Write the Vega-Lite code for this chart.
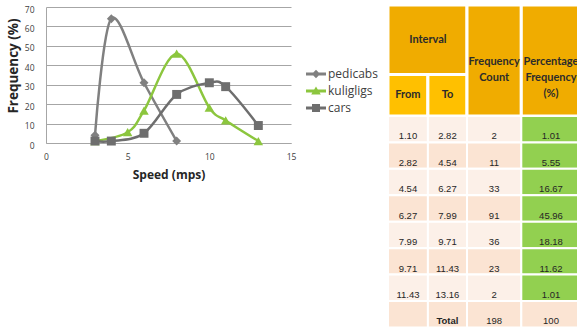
{
  "$schema": "https://vega.github.io/schema/vega-lite/v6.json",
  "background": "white",
  "padding": {"left": 5, "top": 3, "right": 0, "bottom": 0},
  "bounds": "flush",
  "spacing": 97,
  "datasets": {
    "speeds": [
      {"mode": "pedicabs", "speed": 3, "freq": 4},
      {"mode": "pedicabs", "speed": 4, "freq": 64},
      {"mode": "pedicabs", "speed": 6, "freq": 31},
      {"mode": "pedicabs", "speed": 8, "freq": 1},
      {"mode": "kuligligs", "speed": 3, "freq": 1.01},
      {"mode": "kuligligs", "speed": 5, "freq": 5.55},
      {"mode": "kuligligs", "speed": 6, "freq": 16.67},
      {"mode": "kuligligs", "speed": 8, "freq": 45.96},
      {"mode": "kuligligs", "speed": 10, "freq": 18.18},
      {"mode": "kuligligs", "speed": 11, "freq": 11.62},
      {"mode": "kuligligs", "speed": 13, "freq": 1.01},
      {"mode": "cars", "speed": 3, "freq": 1},
      {"mode": "cars", "speed": 4, "freq": 1},
      {"mode": "cars", "speed": 6, "freq": 5},
      {"mode": "cars", "speed": 8, "freq": 25},
      {"mode": "cars", "speed": 10, "freq": 31},
      {"mode": "cars", "speed": 11, "freq": 29},
      {"mode": "cars", "speed": 13, "freq": 9}
    ],
    "headers": [
      {"label": "Interval", "c0": 0, "c1": 2, "r0": 0, "r1": 1},
      {"label": "From", "c0": 0, "c1": 1, "r0": 1, "r1": 2},
      {"label": "To", "c0": 1, "c1": 2, "r0": 1, "r1": 2},
      {"label": "Frequency\nCount", "c0": 2, "c1": 3, "r0": 0, "r1": 2},
      {"label": "Percentage\nFrequency\n(%)", "c0": 3, "c1": 4, "r0": 0, "r1": 2}
    ],
    "intervals": [
      {"row": 1, "from": "1.10", "to": "2.82", "count": "2", "pct": "1.01"},
      {"row": 2, "from": "2.82", "to": "4.54", "count": "11", "pct": "5.55"},
      {"row": 3, "from": "4.54", "to": "6.27", "count": "33", "pct": "16.67"},
      {"row": 4, "from": "6.27", "to": "7.99", "count": "91", "pct": "45.96"},
      {"row": 5, "from": "7.99", "to": "9.71", "count": "36", "pct": "18.18"},
      {"row": 6, "from": "9.71", "to": "11.43", "count": "23", "pct": "11.62"},
      {"row": 7, "from": "11.43", "to": "13.16", "count": "2", "pct": "1.01"},
      {"row": 8, "from": "", "to": "Total", "count": "198", "pct": "100"}
    ]
  },
  "hconcat": [
    {
      "width": 245,
      "height": 136,
      "encoding": {
        "x": {
          "field": "speed", "type": "quantitative",
          "scale": {"domain": [0, 15], "nice": false, "zero": false},
          "axis": {
            "title": "Speed (mps)", "values": [0, 5, 10, 15], "grid": false, "ticks": false,
            "domainColor": "#A6A6A6", "labelFont": "Open Sans", "labelFontSize": 8.5,
            "labelColor": "#404040", "labelPadding": 9, "labelFlush": false, "labelOverlap": false,
            "titleFont": "Open Sans", "titleFontSize": 12, "titleFontWeight": "bold",
            "titleColor": "#262626", "titleY": 31, "titleBaseline": "middle"
          }
        },
        "y": {
          "field": "freq", "type": "quantitative",
          "scale": {"domain": [0, 70], "nice": false},
          "axis": {
            "title": "Frequency (%)", "values": [0, 10, 20, 30, 40, 50, 60, 70], "tickCount": 8,
            "grid": true, "gridColor": "#A6A6A6", "ticks": false, "domainColor": "#A6A6A6",
            "labelFont": "Open Sans", "labelFontSize": 8.5, "labelColor": "#404040",
            "labelPadding": 12, "labelOffset": 2, "labelOverlap": false, "labelFlush": false,
            "titleFont": "Open Sans", "titleFontSize": 13.5, "titleFontWeight": "bold",
            "titleColor": "#262626", "titleX": -33, "titleY": 58.5, "titleAlign": "center",
            "titleBaseline": "middle"
          }
        },
        "color": {
          "field": "mode", "type": "nominal",
          "scale": {"domain": ["pedicabs", "kuligligs", "cars"], "range": ["#808080", "#8CC63E", "#6E6E6E"]},
          "legend": {
            "orient": "none", "legendX": 260, "legendY": 57, "title": null, "padding": 0,
            "labelFont": "Open Sans", "labelFontSize": 12, "labelColor": "#404040",
            "symbolSize": 400, "labelOffset": 2, "rowPadding": 1,
            "encode": {
              "symbols": {
                "update": {
                  "shape": {"signal": "datum.value === 'pedicabs' ? 'M-1,-0.15H1V0.15H-1Z M0,-0.42L0.42,0L0,0.42L-0.42,0Z' : datum.value === 'kuligligs' ? 'M-1,-0.15H1V0.15H-1Z M0,-0.45L0.48,0.35L-0.48,0.35Z' : 'M-1,-0.15H1V0.15H-1Z M-0.4,-0.4H0.4V0.4H-0.4Z'"},
                  "fill": {"signal": "datum.value === 'pedicabs' ? '#808080' : datum.value === 'kuligligs' ? '#8CC63E' : '#6E6E6E'"},
                  "stroke": {"value": "transparent"},
                  "strokeWidth": {"value": 0},
                  "opacity": {"value": 1}
                }
              }
            }
          }
        }
      },
      "layer": [
        {
          "data": {"name": "speeds"},
          "mark": {"type": "line", "interpolate": "cardinal", "strokeWidth": 2.5}
        },
        {
          "data": {"name": "speeds"},
          "transform": [{"filter": "datum.mode == 'pedicabs'"}],
          "mark": {"type": "point", "shape": "diamond", "filled": true, "size": 80, "opacity": 1}
        },
        {
          "data": {"name": "speeds"},
          "transform": [{"filter": "datum.mode == 'kuligligs'"}],
          "mark": {"type": "point", "shape": "triangle-up", "filled": true, "size": 90, "opacity": 1}
        },
        {
          "data": {"name": "speeds"},
          "transform": [{"filter": "datum.mode == 'cars'"}],
          "mark": {"type": "point", "shape": "square", "filled": true, "size": 80, "opacity": 1}
        },
        {
          "data": {"values": [{}]},
          "mark": {
            "type": "point",
            "shape": "M-1,-0.33L0.19,-0.33L0.19,-0.78L1,0L0.19,0.77L0.19,0.45L-1,0.45Z",
            "size": 3136, "filled": true, "fill": "#8CC63E", "stroke": "#141414",
            "strokeWidth": 2, "opacity": 1
          },
          "encoding": {
            "x": {"datum": 14.2, "type": "quantitative"},
            "y": {"datum": 25.5, "type": "quantitative"},
            "color": {"value": "#8CC63E"}
          }
        }
      ]
    },
    {
      "width": 192.7,
      "height": 320.4,
      "layer": [
        {
          "data": {"name": "headers"},
          "mark": {"type": "rect", "stroke": "white", "strokeWidth": 3},
          "encoding": {
            "x": {
              "field": "c0", "type": "quantitative", "axis": null,
              "scale": {"domain": [0, 1, 2, 3, 4], "range": [0, 39.9, 79, 133.3, 192.7], "nice": false, "zero": false}
            },
            "x2": {"field": "c1"},
            "y": {
              "field": "r0", "type": "quantitative", "axis": null,
              "scale": {"domain": [0, 1, 2, 10], "range": [-2, 67.4, 109, 320.4], "nice": false, "zero": false}
            },
            "y2": {"field": "r1"},
            "fill": {"condition": {"test": "datum.r0 == 1", "value": "#FFC000"}, "value": "#F0AC00"}
          }
        },
        {
          "data": {"name": "headers"},
          "transform": [
            {"filter": "datum.r1 - datum.r0 == 1"},
            {"calculate": "(datum.c0 + datum.c1) / 2", "as": "cx"},
            {"calculate": "(datum.r0 + datum.r1) / 2", "as": "cy"}
          ],
          "mark": {"type": "text", "font": "Lato", "fontSize": 11, "fontWeight": "bold", "color": "#2B2B2B", "baseline": "middle", "align": "center"},
          "encoding": {
            "x": {"field": "cx", "type": "quantitative", "axis": null},
            "y": {"field": "cy", "type": "quantitative", "axis": null},
            "text": {"field": "label"}
          }
        },
        {
          "data": {"name": "headers"},
          "transform": [
            {"filter": "datum.r1 - datum.r0 == 2"},
            {"calculate": "(datum.c0 + datum.c1) / 2", "as": "cx"}
          ],
          "mark": {"type": "text", "font": "Lato", "fontSize": 11, "fontWeight": "bold", "color": "#2B2B2B", "baseline": "middle", "align": "center", "lineBreak": "\n", "lineHeight": 16, "dy": 57},
          "encoding": {
            "x": {"field": "cx", "type": "quantitative", "axis": null},
            "y": {"field": "r0", "type": "quantitative", "axis": null},
            "text": {"field": "label"}
          }
        },
        {
          "data": {"name": "intervals"},
          "transform": [
            {"fold": ["from", "to", "count", "pct"], "as": ["column", "label"]},
            {"calculate": "indexof(['from', 'to', 'count', 'pct'], datum.column)", "as": "c0"},
            {"calculate": "datum.c0 + 1", "as": "c1"},
            {"calculate": "datum.c0 + 0.5", "as": "cx"},
            {"calculate": "datum.row + 1", "as": "r0"},
            {"calculate": "datum.row + 2", "as": "r1"}
          ],
          "layer": [
            {
              "mark": {"type": "rect", "stroke": "white", "strokeWidth": 2},
              "encoding": {
                "x": {"field": "c0", "type": "quantitative", "axis": null},
                "x2": {"field": "c1"},
                "y": {"field": "r0", "type": "quantitative", "axis": null},
                "y2": {"field": "r1"},
                "fill": {
                  "condition": [
                    {"test": "datum.column == 'pct' && datum.row < 8", "value": "#92D050"},
                    {"test": "datum.row % 2 == 0", "value": "#FBE4D3"}
                  ],
                  "value": "#FCF0E8"
                }
              }
            },
            {
              "transform": [{"filter": "datum.label != 'Total'"}],
              "mark": {"type": "text", "font": "Liberation Sans", "fontSize": 9.5, "color": "#262626", "baseline": "alphabetic", "align": "center", "dy": -3},
              "encoding": {
                "x": {"field": "cx", "type": "quantitative", "axis": null},
                "y": {"field": "r1", "type": "quantitative", "axis": null},
                "text": {"field": "label"}
              }
            },
            {
              "transform": [{"filter": "datum.label == 'Total'"}],
              "mark": {"type": "text", "font": "Liberation Sans", "fontSize": 9.5, "fontWeight": "bold", "color": "#262626", "baseline": "alphabetic", "align": "center", "dy": -3},
              "encoding": {
                "x": {"field": "cx", "type": "quantitative", "axis": null},
                "y": {"field": "r1", "type": "quantitative", "axis": null},
                "text": {"field": "label"}
              }
            }
          ]
        }
      ]
    }
  ],
  "resolve": {"legend": {"color": "independent"}},
  "config": {"view": {"stroke": null}}
}
